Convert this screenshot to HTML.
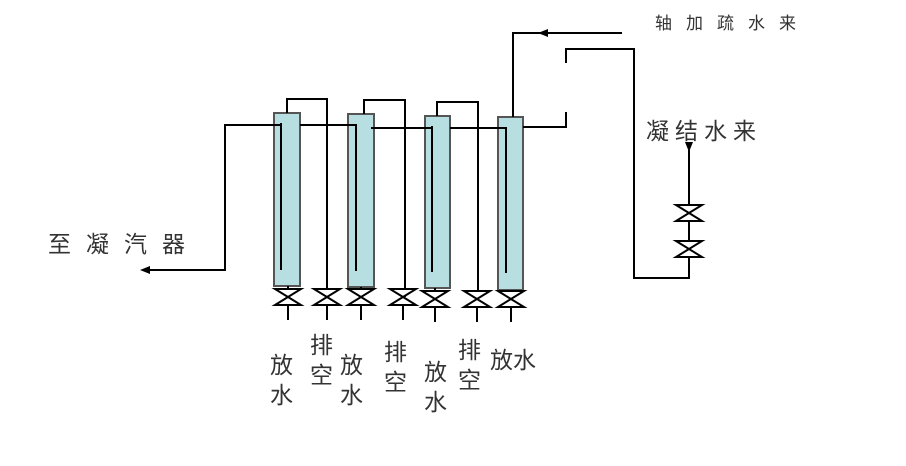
<!DOCTYPE html>
<html><head><meta charset="utf-8"><style>
body{margin:0;background:#fff;width:906px;height:461px;overflow:hidden}
text{font-family:"Liberation Sans","Noto Sans CJK SC",sans-serif;fill:#333}
</style></head><body>
<svg width="906" height="461" xmlns="http://www.w3.org/2000/svg">
<defs>
<g id="v"><path d="M-13,-8 H13 L-13,8 H13 Z" fill="#fff" stroke="#000" stroke-width="2"/></g>
</defs>
<g fill="#b7dfe2" stroke="#555" stroke-width="2">
<rect x="274" y="113" width="26" height="173"/>
<rect x="348" y="114" width="26" height="173"/>
<rect x="425" y="116" width="25" height="172"/>
<rect x="498" y="117" width="25" height="173"/>
</g>
<g stroke="#000" stroke-width="2" fill="none">
<path d="M281,123 V270 M356,124 V271 M432,126 V272 M506,127 V273"/>
<path d="M281,125 H225 V270 H148"/>
<path d="M300,125 H356 M371,128 H432 M450,128 H506"/>
<path d="M287,113 V99 H327 V297 M364,114 V100 H405 V297 M437,116 V102 H478 V297"/>
<path d="M513,117 V33 H622"/>
<path d="M523,127 H566 V112 M566,63 V49 H634 V278 H689 V150"/>
<path d="M288,286 V320 M327,297 V320 M361,287 V320 M403,297 V320 M435,288 V322 M477,297 V322 M511,290 V322"/>
</g>
<path d="M140,270 L150,266 L150,274 Z" fill="#000"/>
<path d="M538,33 L548,29 L548,37 Z" fill="#000"/>
<path d="M689,152 L685,142 L693,142 Z" fill="#000"/>
<use href="#v" x="288" y="297"/><use href="#v" x="327" y="297"/><use href="#v" x="361" y="297"/>
<use href="#v" x="403" y="297"/><use href="#v" x="435" y="299"/><use href="#v" x="477" y="299"/>
<use href="#v" x="511" y="299"/>
<use href="#v" x="689" y="213"/><use href="#v" x="689" y="249"/>
<g font-size="23">
<text x="48" y="252" letter-spacing="15">至凝汽器</text>
<text x="646" y="139" letter-spacing="6">凝结水来</text>
<text x="655" y="29" font-size="17" letter-spacing="14">轴加疏水来</text>
<text x="270" y="373">放</text><text x="270" y="403">水</text>
<text x="310" y="353">排</text><text x="310" y="383">空</text>
<text x="340" y="373">放</text><text x="340" y="403">水</text>
<text x="384" y="360">排</text><text x="384" y="390">空</text>
<text x="424" y="380">放</text><text x="424" y="410">水</text>
<text x="458" y="358">排</text><text x="458" y="388">空</text>
<text x="490" y="368">放水</text>
</g>
</svg>
</body></html>
